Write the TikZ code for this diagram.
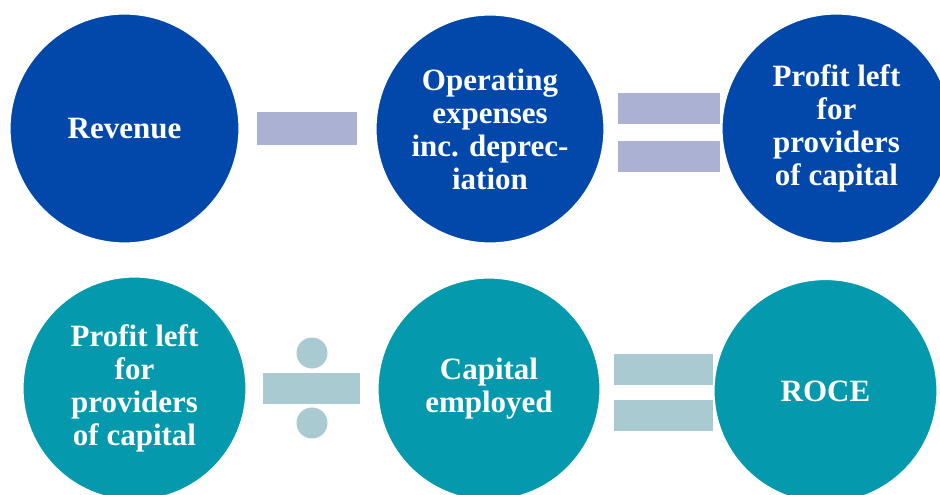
\documentclass[tikz,border=0pt]{standalone}
\usepackage{fontspec}
\setmainfont{Liberation Serif}
\definecolor{topblue}{RGB}{2,72,171}
\definecolor{teal}{RGB}{4,153,172}
\definecolor{minuscol}{RGB}{170,177,211}
\definecolor{divcol}{RGB}{170,202,210}
\begin{document}
\begin{tikzpicture}[x=1pt,y=-1pt,
  bubble/.style={circle, draw=white, line width=1.2pt, text=white, align=center,
    inner sep=0pt, font=\fontsize{31}{33}\selectfont\bfseries},
  topb/.style={bubble, fill=topblue},
  botb/.style={bubble, fill=teal}]
\useasboundingbox[fill=white] (0,0) rectangle (940,495);
% operators (drawn first so circles overlap them)
\fill[minuscol] (257,112) rectangle (357,145);
\fill[minuscol] (618,93) rectangle (720,124);
\fill[minuscol] (618,141) rectangle (720,172);
\fill[divcol] (263,373) rectangle (360,404);
\fill[divcol] (312,353) circle[radius=15.5];
\fill[divcol] (312,423) circle[radius=15.5];
\fill[divcol] (614,354) rectangle (713,385);
\fill[divcol] (614,400) rectangle (713,431);
% top row
\node[topb, minimum size=229pt] (rev) at (124.5,128.5) {Revenue};
\node[topb, minimum size=228pt] (opex) at (490,129) {Operating\\expenses\\inc. deprec-\\iation};
\node[topb, minimum size=229pt] (prof) at (836.5,128.5) {Profit left\\for\\providers\\of capital};
% bottom row
\node[botb, minimum size=223pt] (prof2) at (134.5,388.5) {Profit left\\for\\providers\\of capital};
\node[botb, minimum size=222pt] (cap) at (489,389) {Capital\\employed};
\node[botb, minimum size=223pt] (roce) at (825.5,391) {ROCE};
\end{tikzpicture}
\end{document}
